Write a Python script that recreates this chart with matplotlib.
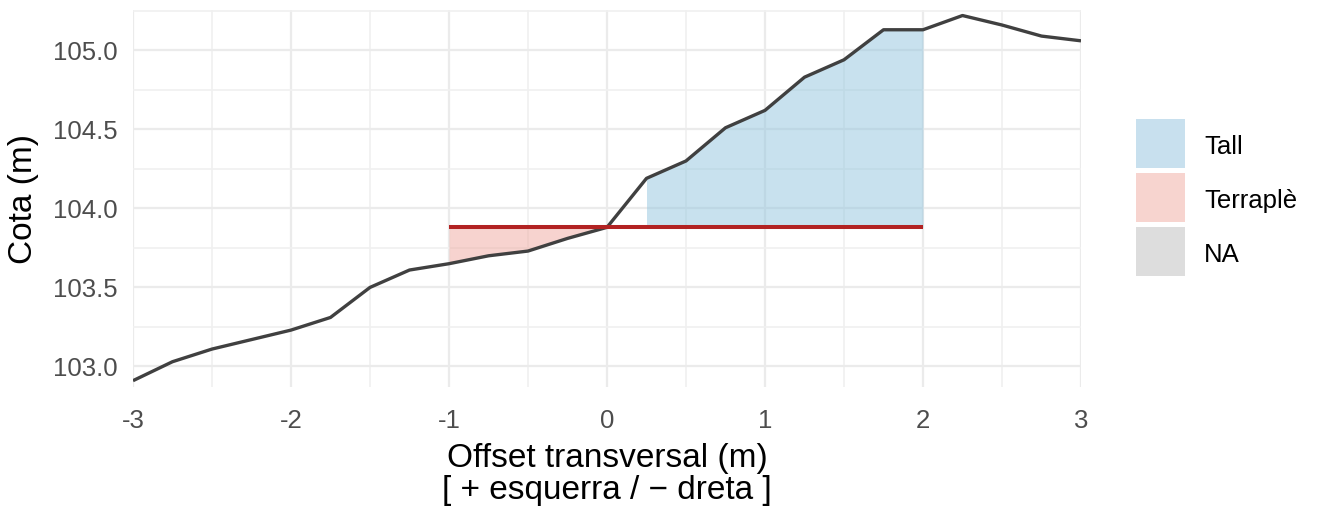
import matplotlib
matplotlib.use("Agg")
import matplotlib.pyplot as plt
from matplotlib.patches import Rectangle
from matplotlib.ticker import MultipleLocator, FormatStrFormatter

plt.rcParams['font.family'] = ['Liberation Sans', 'DejaVu Sans']
plt.rcParams['axes.unicode_minus'] = False

# ground profile (offset, elevation)
offset = [-3.0, -2.75, -2.5, -2.25, -2.0, -1.75, -1.5, -1.25, -1.0, -0.75, -0.5, -0.25,
          0.0, 0.25, 0.5, 0.75, 1.0, 1.25, 1.5, 1.75, 2.0, 2.25, 2.5, 2.75, 3.0]
ground = [102.91, 103.03, 103.11, 103.17, 103.23, 103.31, 103.50, 103.61, 103.65, 103.70,
          103.73, 103.81, 103.88, 104.19, 104.30, 104.51, 104.62, 104.83, 104.94, 105.13,
          105.13, 105.22, 105.16, 105.09, 105.06]

design_x = [-1.0, 2.0]
design_z = 103.88

# areas: (from, to)
tall_range = (0.25, 2.0)
terra_range = (-1.0, 0.0)

legend_labels = ['Tall', 'Terraplè', 'NA']
legend_colors = ['#c8e0ee', '#f7d4cf', '#dddddd']

fig = plt.figure(figsize=(13.24, 5.15), dpi=100)
W, H = 1324, 515
ax = fig.add_axes([133 / W, 1 - 387 / H, (1081 - 133) / W, (387 - 10) / H])

def seg(rng):
    xs = [x for x in offset if rng[0] <= x <= rng[1]]
    zs = [z for x, z in zip(offset, ground) if rng[0] <= x <= rng[1]]
    return xs, zs

xs, zs = seg(tall_range)
ax.fill_between(xs, design_z, zs, color='#92c5de', alpha=0.5, lw=0, zorder=2)
xs, zs = seg(terra_range)
ax.fill_between(xs, design_z, zs, color='#f0a9a0', alpha=0.5, lw=0, zorder=2)

ax.plot(offset, ground, color='#404040', lw=2.4, zorder=3, solid_capstyle='butt')
ax.plot(design_x, [design_z, design_z], color='#b22222', lw=2.9, zorder=4, solid_capstyle='butt')

ax.set_xlim(-3, 3)
ax.set_ylim(102.87, 105.255)
ax.xaxis.set_major_locator(MultipleLocator(1))
ax.xaxis.set_minor_locator(MultipleLocator(0.5))
ax.yaxis.set_major_locator(MultipleLocator(0.5))
ax.yaxis.set_minor_locator(MultipleLocator(0.25))
ax.yaxis.set_major_formatter(FormatStrFormatter('%.1f'))
ax.grid(True, which='major', color='#ebebeb', lw=1.6, zorder=0)
ax.grid(True, which='minor', color='#f0f0f0', lw=1.2, zorder=0)
ax.set_axisbelow(True)
for s in ax.spines.values():
    s.set_visible(False)
ax.tick_params(which='both', length=0, labelsize=18.5, labelcolor='#4d4d4d')
ax.tick_params(axis='x', pad=16)
ax.tick_params(axis='y', pad=11)

ax.set_xlabel('Offset transversal (m)\n[ + esquerra / \u2212 dreta ]', fontsize=24,
              linespacing=1.05, labelpad=7)
ax.set_ylabel('Cota (m)', fontsize=24, labelpad=10)

# legend
for i, (lab, col) in enumerate(zip(legend_labels, legend_colors)):
    top = 119 + i * 54
    fig.add_artist(Rectangle((1136 / W, 1 - (top + 49) / H), 49 / W, 49 / H,
                             transform=fig.transFigure, facecolor=col, edgecolor='none'))
    fig.text(1204 / W, 1 - (top + 28) / H, lab, fontsize=18.5, va='center', ha='left')

fig.savefig('out.png', dpi=100)
